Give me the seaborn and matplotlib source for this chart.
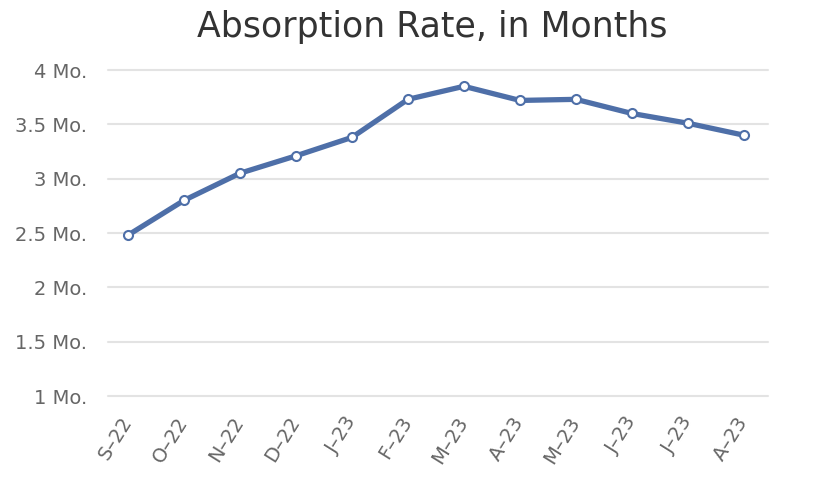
import matplotlib
matplotlib.use('Agg')
import matplotlib.pyplot as plt
import seaborn as sns
import pandas as pd

months = ['S–22', 'O–22', 'N–22', 'D–22', 'J–23', 'F–23', 'M–23', 'A–23', 'M–23', 'J–23', 'J–23', 'A–23']
absorption = [2.48, 2.80, 3.05, 3.21, 3.38, 3.73, 3.85, 3.72, 3.73, 3.60, 3.51, 3.40]
yticks = [1, 1.5, 2, 2.5, 3, 3.5, 4]

sns.set_style('white')
plt.rcParams['font.family'] = ['DejaVu Sans']

df = pd.DataFrame({'pos': range(len(months)), 'value': absorption})

fig = plt.figure(figsize=(8.24, 4.84), dpi=100)
ax = fig.add_axes([108/824, 1 - 396/484, 660/824, 326/484])

sns.lineplot(data=df, x='pos', y='value', ax=ax, color='#4e6fa8', lw=3.8,
             marker='o', markersize=6.5, markerfacecolor='white',
             markeredgecolor='#4e6fa8', markeredgewidth=1.5)

ax.set_ylim(1, 4)
ax.set_xlim(-0.357, 11.43)
ax.set_yticks(yticks)
ax.set_yticklabels([f'{t:g} Mo.' for t in yticks])
ax.set_xticks(range(len(months)))
ax.set_xticklabels(months, rotation=58, ha='right', va='center', rotation_mode='anchor')
ax.tick_params(axis='both', length=0, labelsize=14, labelcolor='#666666')
ax.tick_params(axis='y', pad=15)
ax.tick_params(axis='x', pad=16)
for t in yticks:
    ax.axhline(t, color='#e3e3e3', lw=1.5, zorder=0, clip_on=False)
for s in ax.spines.values():
    s.set_visible(False)
ax.set_xlabel('')
ax.set_ylabel('')
fig.text(0.525, 0.945, 'Absorption Rate, in Months', ha='center', va='center',
         fontsize=25, color='#333333')

fig.savefig('out.png', dpi=100)
